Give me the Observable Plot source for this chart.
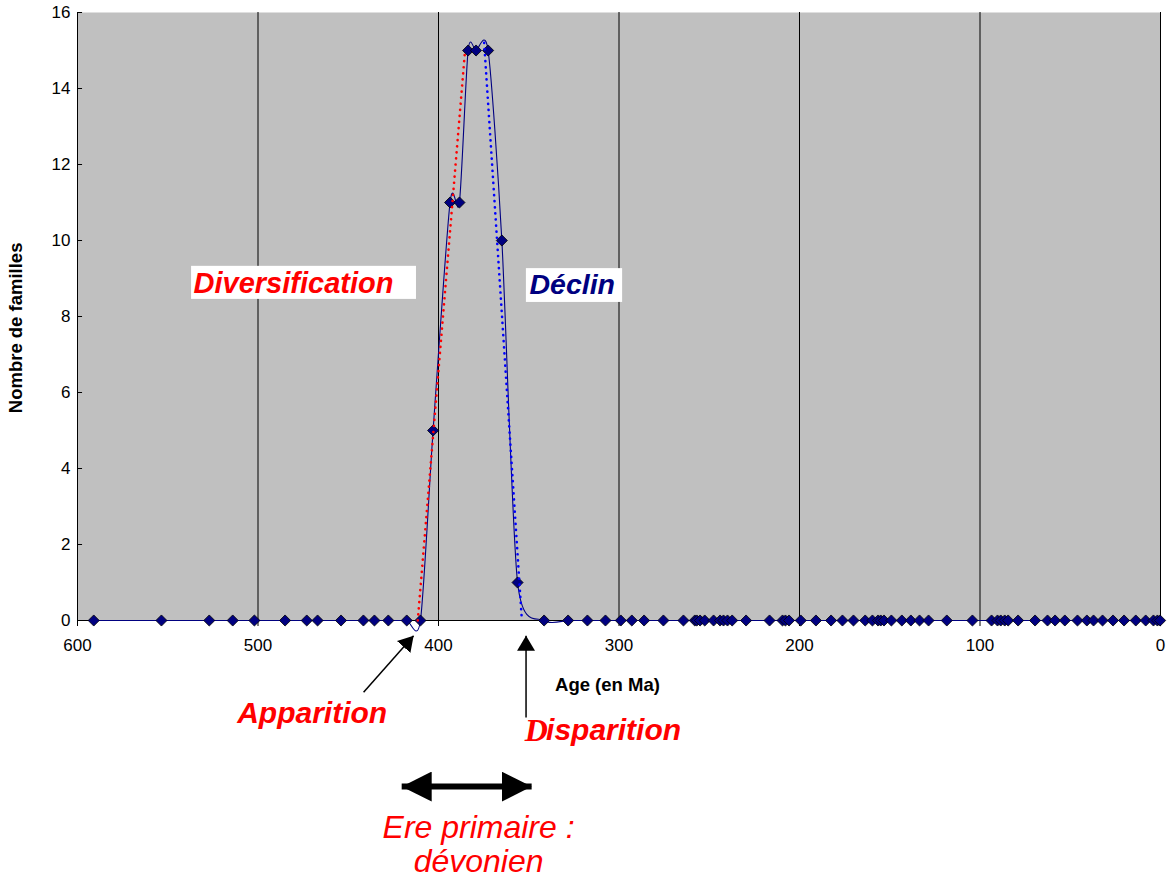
<!DOCTYPE html>
<html>
<head>
<meta charset="utf-8">
<script src="https://cdn.jsdelivr.net/npm/d3@7"></script>
<script src="https://cdn.jsdelivr.net/npm/@observablehq/plot@0.6"></script>
<style>
  html, body { margin: 0; padding: 0; background: #fff; }
</style>
</head>
<body>
<div id="chart"></div>
<script>
// ---- Data ----
const ages = [591, 553.5, 527, 514, 502, 485, 473, 467, 454, 441.6, 435.5, 427.8, 417.6, 410,
  403, 393.6, 388.4, 383.6, 379.2, 372.5, 364.9, 356.2,
  341.5, 328.2, 317.5, 307.5, 299, 292.9, 286.1, 275.4, 264.3, 258,
  256.9, 255.1, 252.5, 247.6, 244, 242.1, 239.9, 237.3, 229.6, 216.6,
  209.4, 207.8, 205.8, 199.3, 190.9, 182.5, 176.2, 170.1, 163.6, 159.6,
  156.5, 155, 153.2, 149.1, 143.3, 138.3, 133.5, 128.5, 118.4, 104.2,
  93.6, 90.3, 88.5, 86.3, 84.4, 78.9, 69.5, 62.6, 58.4, 53,
  46, 40.8, 37.1, 32.1, 26.3, 20.2, 13.7, 8.2, 3.9, 1.7, 0.2];
const familles = [0, 0, 0, 0, 0, 0, 0, 0, 0, 0, 0, 0, 0, 0,
  5, 11, 11, 15, 15, 15, 10, 1,
  0, 0, 0, 0, 0, 0, 0, 0, 0, 0,
  0, 0, 0, 0, 0, 0, 0, 0, 0, 0,
  0, 0, 0, 0, 0, 0, 0, 0, 0, 0,
  0, 0, 0, 0, 0, 0, 0, 0, 0, 0,
  0, 0, 0, 0, 0, 0, 0, 0, 0, 0,
  0, 0, 0, 0, 0, 0, 0, 0, 0, 0, 0];
const xTicks = [600, 500, 400, 300, 200, 100, 0];
const yTicks = [0, 2, 4, 6, 8, 10, 12, 14, 16];
// trend lines (dotted)
const diversificationAges = [411.5, 385.3];
const diversificationValues = [0, 15];
const declinAges = [374.7, 353.8];
const declinValues = [15.2, 0];

// ---- Tables built from the arrays ----
const data = ages.map((a, i) => ({age: a, n: familles[i]}));
const diversification = diversificationAges.map((a, i) => ({age: a, n: diversificationValues[i]}));
const declin = declinAges.map((a, i) => ({age: a, n: declinValues[i]}));

const FONT = "'Liberation Sans', Arial, Helvetica, sans-serif";

const chart = Plot.plot({
  width: 1167,
  height: 881,
  marginLeft: 77,
  marginRight: 7,
  marginTop: 12,
  marginBottom: 261,
  style: {fontFamily: FONT, background: "#fff", overflow: "visible", color: "#000"},
  x: {domain: [600, 0], label: null},
  y: {domain: [0, 16], label: null},
  marks: [
    Plot.frame({fill: "#c0c0c0", stroke: null}),
    Plot.ruleX(xTicks, {y1: 0, y2: 16, stroke: "#000", strokeWidth: 1}),
    Plot.ruleY([0], {x1: 600, x2: 0, stroke: "#000", strokeWidth: 1}),
    Plot.ruleY(yTicks, {x1: 600, x2: 597.2, stroke: "#000", strokeWidth: 1}),
    Plot.axisX({ticks: xTicks, tickSize: 6, tickPadding: 12, fontSize: 17, label: null, tickFormat: d => String(d)}),
    Plot.axisY({ticks: yTicks, tickSize: 0, tickPadding: 7, fontSize: 17, label: null}),

    // label boxes
    Plot.rect([{x1: 536.8, x2: 412.2, y1: 8.45, y2: 9.32}, {x1: 351.3, x2: 298, y1: 8.37, y2: 9.26}],
      {x1: "x1", x2: "x2", y1: "y1", y2: "y2", fill: "#fff"}),

    // main series
    Plot.line(data, {x: "age", y: "n", stroke: "#000080", strokeWidth: 1.1, curve: "cardinal", tension: 0.25}),
    Plot.dot(data, {x: "age", y: "n", symbol: "diamond2", r: 5, fill: "#000080", stroke: "#000", strokeWidth: 0.8}),

    // dotted trend lines
    Plot.line(diversification, {x: "age", y: "n", stroke: "#ff0000", strokeWidth: 2.6, strokeDasharray: "0.1 6", strokeLinecap: "round"}),
    Plot.line(declin, {x: "age", y: "n", stroke: "#0000ff", strokeWidth: 2.6, strokeDasharray: "0.1 6", strokeLinecap: "round"}),

    // labels inside the plot
    Plot.text([{age: 535.7, n: 8.87, t: "Diversification"}], {x: "age", y: "n", text: "t", textAnchor: "start",
      fontSize: 29, fontWeight: "bold", fontStyle: "italic", fill: "#ff0000"}),
    Plot.text([{age: 349.6, n: 8.82, t: "Déclin"}], {x: "age", y: "n", text: "t", textAnchor: "start",
      fontSize: 28.5, fontWeight: "bold", fontStyle: "italic", fill: "#000080"}),

    // y axis title
    Plot.text([{n: 7.7, t: "Nombre de familles"}], {y: "n", text: "t", frameAnchor: "left", textAnchor: "middle", dx: -61, rotate: -90,
      fontSize: 18.5, fontWeight: "bold", fill: "#000"}),

    // x axis title
    Plot.text([{age: 306.4, n: -1.71, t: "Age (en Ma)"}], {x: "age", y: "n", text: "t",
      fontSize: 18.5, fontWeight: "bold", fill: "#000"}),

    // annotations below
    Plot.text([{age: 470, n: -2.45, t: "Apparition"}], {x: "age", y: "n", text: "t",
      fontSize: 30, fontWeight: "bold", fontStyle: "italic", fill: "#ff0000"}),
    Plot.text([{age: 352.2, n: -2.89, t: "D"}], {x: "age", y: "n", text: "t", textAnchor: "start",
      fontFamily: "'Liberation Serif', 'Times New Roman', serif", fontSize: 32, fontWeight: "bold", fontStyle: "italic", fill: "#ff0000"}),
    Plot.text([{age: 340.4, n: -2.89, t: "isparition"}], {x: "age", y: "n", text: "t", textAnchor: "start",
      fontSize: 30, fontWeight: "bold", fontStyle: "italic", fill: "#ff0000"}),
    Plot.text([{age: 377.8, n: -5.45, t: "Ere primaire :"}, {age: 377.8, n: -6.35, t: "dévonien"}], {x: "age", y: "n", text: "t",
      fontSize: 32, fontStyle: "italic", fill: "#ff0000"}),

    // arrows
    Plot.link([{x1: 441.5, y1: -1.89, x2: 413.8, y2: -0.4}, {x1: 351.5, y1: -2.55, x2: 351.5, y2: -0.4}],
      {x1: "x1", y1: "y1", x2: "x2", y2: "y2", stroke: "#000", strokeWidth: 1.5}),
    Plot.link([{x1: 420.4, y1: -4.37, x2: 348.4, y2: -4.37}],
      {x1: "x1", y1: "y1", x2: "x2", y2: "y2", stroke: "#000", strokeWidth: 6})
  ]
});

// filled arrow heads
const svg = d3.select(chart.tagName.toLowerCase() === "svg" ? chart : chart.querySelector("svg"));
const defs = svg.insert("defs", ":first-child");
defs.append("marker")
  .attr("id", "head-small").attr("viewBox", "0 0 15 18").attr("refX", 15).attr("refY", 9)
  .attr("markerUnits", "userSpaceOnUse").attr("markerWidth", 15).attr("markerHeight", 18)
  .attr("orient", "auto")
  .append("path").attr("d", "M0,0L15,9L0,18Z").attr("fill", "#000");
defs.append("marker")
  .attr("id", "head-big").attr("viewBox", "0 0 30 30").attr("refX", 30).attr("refY", 15)
  .attr("markerUnits", "userSpaceOnUse").attr("markerWidth", 30).attr("markerHeight", 30)
  .attr("orient", "auto-start-reverse")
  .append("path").attr("d", "M0,0L30,15L0,30Z").attr("fill", "#000");
const linkGroups = svg.selectAll('g[aria-label="link"]').nodes();
if (linkGroups[0]) d3.select(linkGroups[0]).selectAll("path, line").attr("marker-end", "url(#head-small)");
if (linkGroups[1]) d3.select(linkGroups[1]).selectAll("path, line").attr("marker-end", "url(#head-big)").attr("marker-start", "url(#head-big)");

document.getElementById("chart").appendChild(chart);
</script>
</body>
</html>
